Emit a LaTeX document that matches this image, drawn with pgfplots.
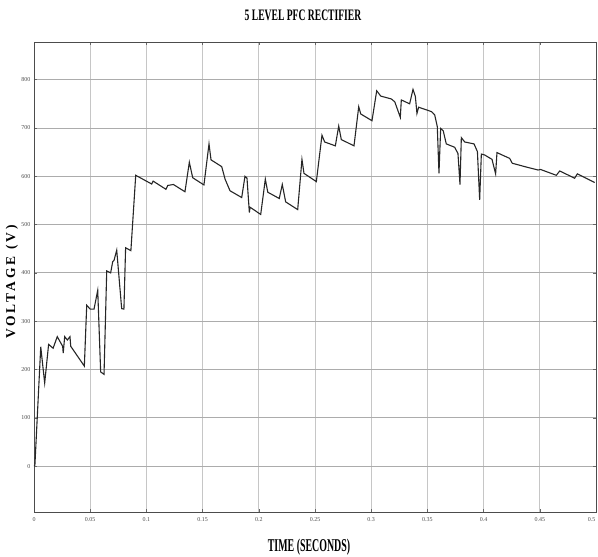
\documentclass[border=0pt]{standalone}
\usepackage{fontspec}
\setmainfont{Liberation Serif}
\usepackage{graphicx}
\usepackage{pgfplots}
\pgfplotsset{compat=1.18}
\begin{document}
\begin{tikzpicture}
\begin{axis}[
  at={(0,0)}, anchor=south west,
  scale only axis, width=562pt, height=470pt,
  xmin=0, xmax=0.5, ymin=-95, ymax=878,
  xtick={0,0.05,0.1,0.15,0.2,0.25,0.3,0.35,0.4,0.45,0.5},
  xticklabels={0,0.05,0.1,0.15,0.2,0.25,0.3,0.35,0.4,0.45,{\makebox[0pt][r]{0.5}\kern1pt}},
  ytick={0,100,200,300,400,500,600,700,800},
  yticklabels={0,100,200,300,400,500,600,700,800},
  grid=major,
  x grid style={gray!45, line width=0.6pt},
  y grid style={gray!65, line width=0.8pt},
  axis line style={black!70, line width=0.9pt},
  tick align=inside, major tick length=3pt,
  tick style={black!60, line width=0.5pt},
  ticklabel style={font=\fontsize{6}{7}\selectfont, text=black!70},
  /pgf/number format/assume math mode=true,
  xticklabel style={yshift=-2pt},
  clip=true,
]
\addplot[black!85, line width=1.1pt] coordinates {
(0,0) (0.0008,2) (0.006,247) (0.0095,172) (0.013,252) (0.017,244) (0.0207,268)
(0.0255,248) (0.026,234) (0.0273,268) (0.0297,261) (0.032,268) (0.0327,248)
(0.0448,207) (0.0469,333) (0.05,325) (0.0534,325) (0.0567,364) (0.0593,195)
(0.0623,190) (0.0647,404) (0.0682,400) (0.07,423) (0.0712,426) (0.0736,447)
(0.078,326) (0.08,325) (0.0815,452) (0.0862,446) (0.0905,602)
(0.1047,584) (0.106,590) (0.1174,573) (0.119,581) (0.124,583) (0.1343,568)
(0.1382,629) (0.1412,597) (0.1512,582) (0.1557,667) (0.1575,634) (0.167,620)
(0.17,594) (0.1744,570) (0.1848,556) (0.1877,600) (0.1895,596) (0.1916,525)
(0.1922,536) (0.2017,521) (0.2058,594) (0.208,567) (0.2182,554) (0.2209,583)
(0.2239,547) (0.2346,531) (0.2384,635) (0.2402,606) (0.2512,589) (0.2562,685)
(0.2586,671) (0.2681,663) (0.2711,704) (0.2734,676) (0.2847,663) (0.2889,744)
(0.2907,729) (0.3007,715) (0.3049,777) (0.3085,766) (0.318,760) (0.321,754)
(0.3259,722) (0.3268,758) (0.3342,750) (0.3372,780) (0.3393,765) (0.3407,730)
(0.3422,743) (0.3535,734) (0.3565,727) (0.3588,703) (0.3603,606) (0.3618,699)
(0.3641,694) (0.3668,667) (0.3743,660) (0.3772,647) (0.379,583) (0.3802,680)
(0.3832,671) (0.3915,667) (0.3945,651) (0.3965,551) (0.398,646) (0.401,644)
(0.4075,635) (0.4107,605) (0.4119,649) (0.4232,637) (0.4255,627) (0.4366,620)
(0.4484,613) (0.4508,614) (0.4647,602) (0.4677,611) (0.481,596) (0.4834,605)
(0.4988,587)
};
\end{axis}
\node at (269pt,497pt) {\scalebox{0.6}[1]{\fontsize{16}{18}\selectfont\bfseries 5 LEVEL PFC RECTIFIER}};
\node at (275pt,-35pt) {\scalebox{0.55}[1]{\fontsize{18}{20}\selectfont\bfseries TIME (SECONDS)}};
\node[rotate=90] at (-22pt,230pt) {\fontsize{13.5}{15}\selectfont\bfseries\addfontfeatures{LetterSpace=22}VOLTAGE (V)};
\pgfresetboundingbox
\path[use as bounding box] (-34pt,-45pt) rectangle (564pt,512pt);
\end{tikzpicture}
\end{document}
